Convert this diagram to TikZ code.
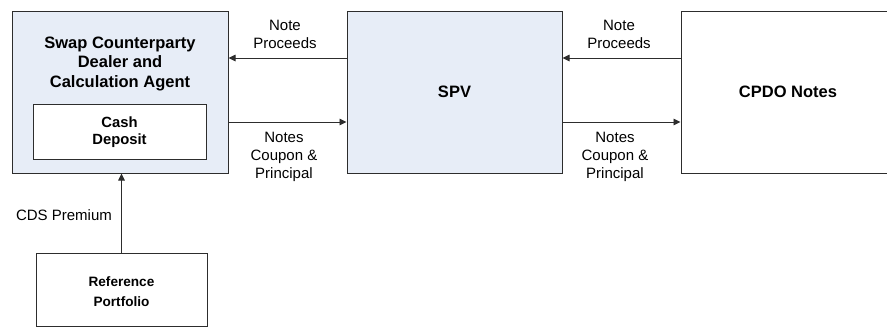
\documentclass[tikz,border=0pt]{standalone}
\usepackage{fontspec}
\setmainfont{Liberation Sans}
\usetikzlibrary{arrows.meta}
\definecolor{boxblue}{RGB}{231,237,247}
\definecolor{edge}{RGB}{45,45,45}
\tikzset{
  party/.style={draw=edge, line width=1pt, rectangle, inner sep=0pt},
  flow/.style={draw=edge, line width=0.9pt, -{Triangle[length=7pt,width=6.5pt]}},
  flowlabel/.style={align=center, inner sep=0pt, font=\fontsize{15}{18}\selectfont},
  boxtitle/.style={align=center, inner sep=0pt, font=\fontsize{16.5}{19.5}\selectfont\bfseries},
}
\begin{document}
\begin{tikzpicture}[x=1pt, y=-1pt]
\clip (0,0) rectangle (887,327);
\fill[white] (0,0) rectangle (887,327);

% main parties
\node[party, fill=boxblue, minimum width=216pt, minimum height=162pt] (dealer) at (120,92) {};
\node[party, fill=white, minimum width=173pt, minimum height=55pt] (cash) at (119.5,131.5) {};
\node[party, fill=boxblue, minimum width=215pt, minimum height=162pt] (spv) at (454.5,92) {};
\node[party, fill=white, minimum width=214pt, minimum height=162pt] (cpdo) at (788,92) {};
\node[party, fill=white, minimum width=171pt, minimum height=73pt] (refp) at (121.5,289.5) {};

% box texts
\node[boxtitle] (dealertxt) at (120,63.5) {Swap Counterparty\\Dealer and\\Calculation Agent};
\node[boxtitle, font=\fontsize{14.8}{17.5}\selectfont\bfseries] (cashtxt) at (119.5,132) {Cash\\Deposit};
\node[boxtitle] (spvtxt) at (454.5,92) {SPV};
\node[boxtitle] (cpdotxt) at (788,92) {CPDO Notes};
\node[boxtitle, font=\fontsize{13.6}{20}\selectfont\bfseries] (refptxt) at (121.5,292) {Reference\\Portfolio};

% cash flows
\draw[flow] ([yshift=34pt]spv.west) -- ([yshift=34pt]dealer.east);
\draw[flow] ([yshift=-30pt]dealer.east) -- ([yshift=-30pt]spv.west);
\draw[flow] ([yshift=34pt]cpdo.west) -- ([yshift=34pt]spv.east);
\draw[flow] ([yshift=-30pt]spv.east) -- ([yshift=-30pt]cpdo.west);
\draw[flow] (refp.north) -- (refp.north |- dealer.south);

% flow labels
\node[flowlabel] (lp1) at (285,34) {Note\\Proceeds};
\node[flowlabel] (lc1) at (284,157) {Notes\\Coupon \&\\Principal};
\node[flowlabel] (lp2) at (619,34) {Note\\Proceeds};
\node[flowlabel] (lc2) at (615,157) {Notes\\Coupon \&\\Principal};
\node[flowlabel] (lcds) at (64,215) {CDS Premium};
\end{tikzpicture}
\end{document}
